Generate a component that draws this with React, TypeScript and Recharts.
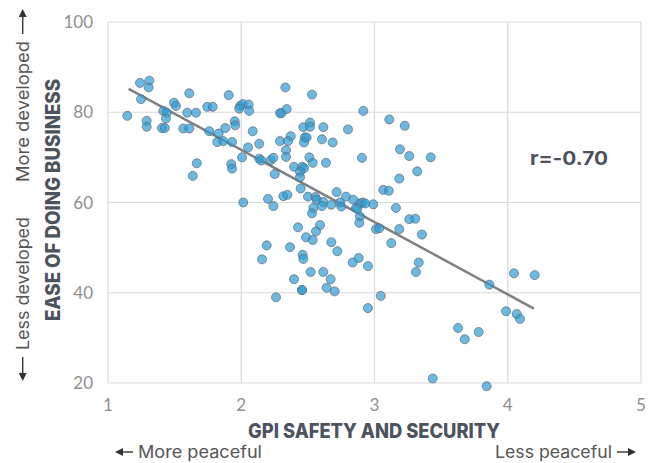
import {
  ScatterChart,
  Scatter,
  XAxis,
  YAxis,
  ZAxis,
  CartesianGrid,
  ReferenceLine,
} from 'recharts';

// GPI safety and security score (x) per country
const gpiSafety = [
  1.145, 1.24, 1.31, 1.305, 1.248, 1.29, 1.29, 1.405, 1.426, 1.415, 1.441, 1.435, 1.495, 1.51, 1.61, 1.595,
  1.66, 1.565, 1.61, 1.745, 1.786, 1.906, 1.76, 1.831, 1.82, 1.865, 1.88, 1.931, 1.951, 1.955, 1.991, 2.011,
  2.056, 1.985, 2.06, 2.086, 2.051, 2.135, 2.006, 2.135, 2.15, 2.221, 2.241, 2.251, 2.291, 2.291, 1.666, 1.636,
  1.925, 1.931, 2.331, 2.531, 2.301, 2.341, 2.916, 3.111, 3.227, 2.466, 2.516, 2.516, 2.616, 2.801, 2.371, 2.351,
  2.476, 2.491, 2.471, 2.606, 2.686, 2.336, 2.336, 2.511, 2.536, 2.636, 2.906, 3.191, 3.261, 3.422, 2.396, 2.456,
  2.471, 2.441, 2.441, 3.321, 3.186, 2.446, 2.015, 2.201, 2.241, 2.316, 2.346, 2.501, 2.556, 2.566, 2.616, 2.676,
  2.716, 2.741, 2.751, 2.786, 2.841, 2.861, 2.891, 2.911, 2.931, 2.991, 2.891, 2.886, 2.541, 2.531, 3.011, 3.036,
  2.426, 2.591, 2.561, 2.486, 2.536, 2.191, 2.366, 2.676, 2.721, 2.461, 2.466, 2.156, 2.836, 2.881, 2.951, 2.521,
  2.616, 2.671, 2.396, 2.641, 2.701, 2.456, 2.456, 2.261, 2.951, 3.047, 3.066, 3.107, 3.161, 3.261, 3.306, 3.186,
  3.356, 3.126, 3.332, 3.311, 3.862, 4.047, 4.202, 3.987, 4.067, 4.092, 3.627, 3.677, 3.782, 3.437, 3.842, 2.871,
  2.606,
];

// Ease of doing business score (y), same order
const easeOfBusiness = [
  79.2, 86.5, 87.0, 85.5, 82.9, 78.1, 76.8, 76.5, 76.5, 80.3, 79.9, 78.6, 82.1, 81.4, 84.2, 79.9,
  79.9, 76.4, 76.4, 81.2, 81.2, 83.8, 75.8, 75.3, 73.4, 73.6, 76.5, 73.4, 78.0, 77.1, 81.4, 81.8,
  81.7, 80.8, 80.3, 75.8, 72.2, 73.0, 70.0, 69.7, 69.3, 69.4, 69.9, 66.3, 79.8, 73.6, 68.7, 65.9,
  68.5, 67.5, 85.5, 83.9, 79.8, 80.7, 80.3, 78.4, 77.0, 76.7, 77.7, 76.8, 76.7, 76.2, 74.7, 73.6,
  74.4, 74.4, 73.3, 74.0, 73.3, 71.6, 70.1, 70.0, 68.8, 68.8, 69.9, 71.8, 70.3, 70.0, 67.9, 67.9,
  67.6, 66.8, 65.6, 66.9, 65.3, 63.1, 60.0, 60.8, 59.2, 61.4, 61.7, 61.3, 61.2, 60.6, 60.1, 59.5,
  62.3, 60.0, 59.1, 61.3, 60.6, 58.8, 59.8, 60.0, 59.8, 59.6, 56.9, 55.5, 58.8, 57.6, 54.1, 54.3,
  54.5, 55.0, 53.6, 52.3, 51.7, 50.5, 50.1, 51.2, 49.2, 48.4, 47.5, 47.4, 46.7, 47.7, 45.9, 44.6,
  44.6, 43.0, 43.0, 41.1, 40.3, 40.6, 40.6, 39.0, 36.6, 39.3, 62.8, 62.6, 58.8, 56.3, 56.4, 54.1,
  52.9, 51.0, 46.7, 44.6, 41.8, 44.3, 43.9, 35.9, 35.3, 34.2, 32.2, 29.7, 31.3, 21.0, 19.3, 58.6,
  59.2,
];

const xTicks = [1, 2, 3, 4, 5];
const yTicks = [20, 40, 60, 80, 100];

// trend line end points (x, y)
const trendStart = { x: 1.155, y: 85.2 };
const trendEnd = { x: 4.196, y: 36.5 };
const correlation = 'r=-0.70';

const font = 'Inter, "Noto Sans", sans-serif';
const tickFont = 'Lato, Inter, sans-serif';
const dark = '#4d535e';
const soft = '#555';
const arrowColor = '#333';

export default function App() {
  const data = gpiSafety.map((x, i) => ({ x, y: easeOfBusiness[i] }));
  const tickStyle = { fill: '#8f8f8f', fontSize: 17, fontFamily: tickFont, fontWeight: 400 };

  return (
    <div style={{ position: 'relative', width: 656, height: 463, fontFamily: font }}>
      <style>{'body{margin:0}.recharts-scatter{clip-path:none}'}</style>
      <ScatterChart width={656} height={463} margin={{ top: 22, right: 15, bottom: 0, left: 0 }}>
        <CartesianGrid stroke="#dadada" strokeWidth={1.2} />
        <XAxis
          type="number"
          dataKey="x"
          domain={[1, 5]}
          ticks={xTicks}
          height={80}
          axisLine={false}
          tickLine={false}
          tickSize={0}
          tickMargin={16}
          tick={tickStyle}
        />
        <YAxis
          type="number"
          dataKey="y"
          domain={[20, 100]}
          ticks={yTicks}
          allowDataOverflow
          width={108}
          axisLine={false}
          tickLine={false}
          tickSize={0}
          tickMargin={15}
          tick={tickStyle}
        />
        <ZAxis range={[133, 133]} />
        <Scatter
          data={data}
          fill="#2e9bd6"
          fillOpacity={0.7}
          stroke="#5f6b75"
          strokeOpacity={0.7}
          strokeWidth={1}
          isAnimationActive={false}
        />
        <ReferenceLine segment={[trendStart, trendEnd]} stroke="#808080" strokeWidth={2.5} />
      </ScatterChart>

      <svg
        width={656}
        height={463}
        style={{ position: 'absolute', left: 0, top: 0, pointerEvents: 'none' }}
        fontFamily={font}
      >
        <text x={530} y={165} fontSize={19} fontWeight={700} fill={dark} textLength={78} lengthAdjust="spacingAndGlyphs">
          {correlation}
        </text>

        {/* y axis titles */}
        <text
          transform="translate(60,321) rotate(-90)"
          fontSize={20}
          fontWeight={800}
          fill={dark}
          textLength={242}
          lengthAdjust="spacingAndGlyphs"
        >
          EASE OF DOING BUSINESS
        </text>
        <text transform="translate(28.5,182) rotate(-90)" fontSize={17} fill={soft} textLength={141} lengthAdjust="spacingAndGlyphs">
          More developed
        </text>
        <text transform="translate(28.5,350) rotate(-90)" fontSize={17} fill={soft} textLength={133} lengthAdjust="spacingAndGlyphs">
          Less developed
        </text>
        <line x1={22.7} y1={34} x2={22.7} y2={16} stroke={arrowColor} strokeWidth={1.4} />
        <path d="M22.7,9 L18.7,17 L26.7,17 Z" fill={arrowColor} />
        <line x1={22.7} y1={357} x2={22.7} y2={374} stroke={arrowColor} strokeWidth={1.4} />
        <path d="M22.7,381 L18.7,373 L26.7,373 Z" fill={arrowColor} />

        {/* x axis titles */}
        <text x={248} y={438} fontSize={20} fontWeight={800} fill={dark} textLength={252} lengthAdjust="spacingAndGlyphs">
          GPI SAFETY AND SECURITY
        </text>
        <text x={138} y={458} fontSize={17} fill={soft} textLength={124} lengthAdjust="spacingAndGlyphs">
          More peaceful
        </text>
        <text x={495} y={458} fontSize={17} fill={soft} textLength={117} lengthAdjust="spacingAndGlyphs">
          Less peaceful
        </text>
        <line x1={122} y1={452} x2={133} y2={452} stroke={arrowColor} strokeWidth={1.4} />
        <path d="M115,452 L123,448 L123,456 Z" fill={arrowColor} />
        <line x1={617} y1={452} x2={628} y2={452} stroke={arrowColor} strokeWidth={1.4} />
        <path d="M636,452 L628,448 L628,456 Z" fill={arrowColor} />
      </svg>
    </div>
  );
}
